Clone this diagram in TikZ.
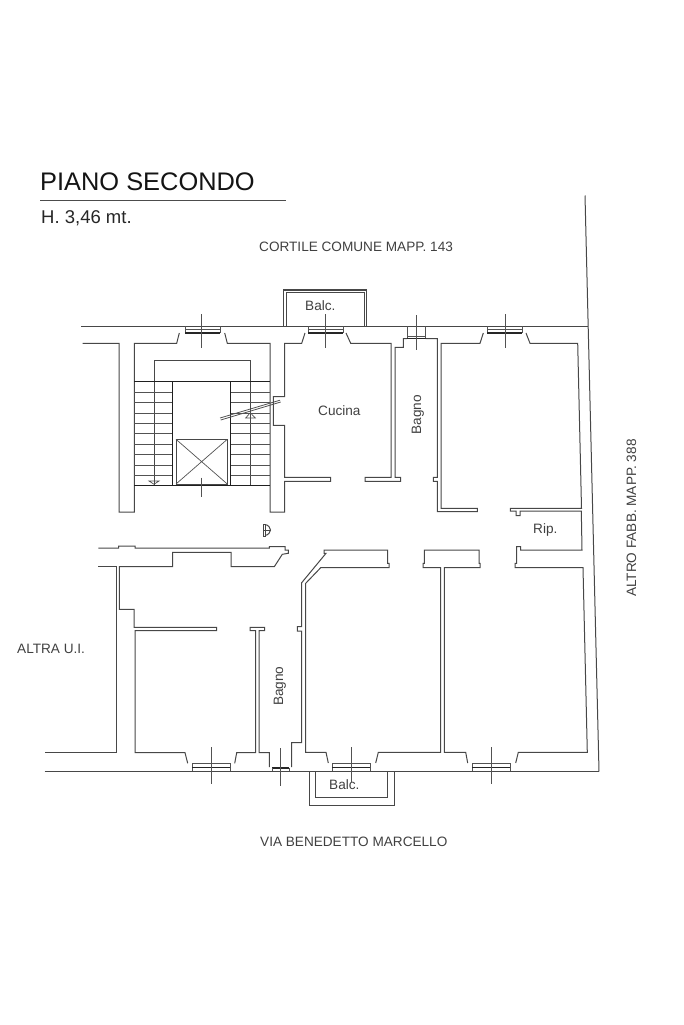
\documentclass[tikz,border=0pt]{standalone}
\usepackage{fontspec}
\setmainfont{Liberation Sans}
\tikzset{
  wall/.style={draw=black!72,line width=1pt,line join=miter},
  dark/.style={draw=black!88,line width=1pt},
  thin/.style={draw=black!68,line width=0.8pt},
  glass/.style={draw=black!85,line width=1.1pt},
  lbl/.style={text=black!75,inner sep=0pt,font=\fontsize{13.6}{14}\selectfont},
  lblv/.style={lbl,rotate=90}
}
\newcommand{\wintop}[3]{% x1 x2 cross x
  \draw[thin] (#1,326) -- (#1,333) (#2,326) -- (#2,333);
  \draw[glass] (#1,333) -- (#2,333);
  \draw[thin] (#1,329) -- (#2,329);
  \draw[thin] (#3,314) -- (#3,348);
}
\newcommand{\winbot}[5]{% x1 x2 cross x, y1, y2
  \draw[thin] (#1,771) -- (#1,763.3) (#2,771) -- (#2,763.3);
  \draw[thin] (#1,763.5) -- (#2,763.5);
  \draw[glass] (#1,767.5) -- (#2,767.5);
  \draw[thin] (#3,#4) -- (#3,#5);
}
\begin{document}
\begin{tikzpicture}[x=1pt,y=-1pt]
\useasboundingbox (0,0) rectangle (683,1025);
% title
\node[anchor=base west,inner sep=0pt,text=black!92,font=\fontsize{25.4}{26}\selectfont] (title) at (40,190) {PIANO SECONDO};
\draw[draw=black!70,line width=1pt] (40,200.7) -- (286,200.7);
\node[anchor=base west,inner sep=0pt,text=black!85,font=\fontsize{18.5}{20}\selectfont] (height) at (41,223.5) {H. 3,46 mt.};
% labels
\node[lbl,anchor=base west] (cortile) at (259,251) {CORTILE COMUNE MAPP. 143};
\node[lblv,anchor=base west] (altro) at (636,597) {ALTRO FABB. MAPP. 388};
\node[lbl,anchor=base west] (altra) at (17,653) {ALTRA U.I.};
\node[lbl,anchor=base west] (via) at (260,846) {VIA BENEDETTO MARCELLO};
\node[lblv,anchor=base west] (bagnoa) at (421,434.5) {Bagno};
\node[lblv,anchor=base west] (bagnob) at (283,706) {Bagno};
\node[lbl,anchor=base west] (cucina) at (318,415) {Cucina};
\node[lbl,anchor=base west] (balca) at (305,310) {Balc.};
\node[lbl,anchor=base west] (balcb) at (329,789) {Balc.};
\node[lbl,anchor=base west] (rip) at (533,533) {Rip.};
% outer lines
\draw[wall] (81,326) -- (588,326);
\draw[wall] (44.5,771.3) -- (599,771.3);
\draw[wall] (585,195.5) -- (599,771.3);
% top balcony
\draw[wall,line width=1.2pt] (283.5,326) -- (283.5,290) -- (366.5,290) -- (366.5,326);
\draw[wall] (286,326) -- (286,292.7) -- (364,292.7) -- (364,326);
% bottom balcony
\draw[wall] (309,771.3) -- (309,805) -- (394,805) -- (394,771.3);
\draw[wall] (315.7,771.3) -- (315.7,797.7) -- (387.3,797.7) -- (387.3,771.3);
% windows top
\wintop{185}{220}{201.7}
\wintop{308.3}{343.3}{325.5}
\wintop{487.3}{522.3}{505}
% bath window top
\draw[thin] (407,326) -- (407,338.7) (425.7,326) -- (425.7,338.7);
\draw[glass] (407,338.7) -- (425.7,338.7);
\draw[thin] (407,336) -- (425.7,336);
\draw[thin] (416,315) -- (416,350);
% left upper wall
\draw[wall] (82.7,343.3) -- (119,343.3) -- (119,512) -- (134.3,512) -- (134.3,343.3) -- (176.7,343.3) -- (179.3,333);
\draw[wall] (224.7,333) -- (227.3,343.3) -- (270,343.3) -- (270,512) -- (284.7,512) -- (284.7,481.3) -- (330.7,481.3) -- (330.7,477.3) -- (284.5,477.3) -- (284.5,425.3) -- (273.3,425.3) -- (273.3,396.7) -- (284.5,396.7) -- (284.5,343.3) -- (301.7,343.3) -- (305,333);
% kitchen right and bath
\draw[wall] (346,333) -- (350.7,343.3) -- (391,343.3) -- (391,477.3) -- (365,477.3) -- (365,481.3) -- (400.7,481.3) -- (400.7,477.3) -- (395,477.3) -- (395,347.3) -- (403.3,347.3) -- (403.3,338.7) -- (407,338.7);
\draw[wall] (425.7,338.7) -- (437.3,338.7) -- (437.3,477.3) -- (433.3,477.3) -- (433.3,481.3) -- (437.3,481.3) -- (437.3,511.7) -- (477.3,511.7) -- (477.3,508.3) -- (441,508.3) -- (441,343.3) -- (480,343.3) -- (483.3,333);
\draw[wall] (526,333) -- (530,343.3) -- (577.7,343.3) -- (581.5,508.3) -- (510.3,508.3) -- (510.3,511) -- (516,511) -- (516,515.5) -- (520,515.5) -- (520,511) -- (581.3,511) -- (582,550) -- (520.7,550) -- (520.7,546.7) -- (516.7,546.7) -- (516.7,563.3) -- (515,563.3) -- (515,567.7) -- (583,567.7) -- (587.3,752.3) -- (518.3,752.3) -- (515.7,763);
% central walls
\draw[wall] (467.7,763) -- (465.7,752.3) -- (444.3,752.3) -- (444.3,567.7) -- (480,567.7) -- (480,563.3) -- (479,563.3) -- (479,550) -- (424.3,550) -- (424.3,563.3) -- (423,563.3) -- (423,567.7) -- (440.7,567.7) -- (440.7,752.3) -- (378.3,752.3) -- (375.7,763);
\draw[wall] (328.3,763) -- (326,752.3) -- (305.7,752.3) -- (305.7,583.3) -- (320.7,567.7) -- (389,567.7) -- (389,563.3) -- (387.7,563.3) -- (387.7,550) -- (324,550) -- (324,553.3) -- (326,553.3) -- (301.7,582.7) -- (301.7,626.7) -- (297.3,626.7) -- (297.3,631) -- (301.7,631) -- (301.7,742.7) -- (291.7,742.7) -- (291.7,767);
% lower left
\draw[wall] (269.3,767) -- (269.3,752.7) -- (259,752.7) -- (259,630.7) -- (264.7,630.7) -- (264.7,627.3) -- (250,627.3) -- (250,630.7) -- (255.7,630.7) -- (255.7,752.7) -- (236.7,752.7) -- (234.7,763.3);
\draw[wall] (187.7,763.3) -- (185,752.7) -- (135,752.7) -- (135,630.7) -- (216.7,630.7) -- (216.7,627.3) -- (134,627.3) -- (134,609.3) -- (119.3,609.3) -- (119.3,566.7) -- (172.7,566.7) -- (172.7,552.3) -- (231,552.3) -- (231,566.7) -- (274.3,566.7) -- (282.3,554.3) -- (288.3,553.3) -- (288.3,550) -- (285,550) -- (285,546.7) -- (269.3,546.7) -- (269.3,548) -- (135,548) -- (135,546) -- (118.7,546) -- (118.7,548) -- (98.3,548);
\draw[wall] (98.3,566.7) -- (116.3,566.7) -- (116.3,752.7) -- (45,752.7);
% windows bottom
\winbot{192}{230}{211.3}{747.3}{784}
\winbot{332.3}{370.3}{351.7}{747.3}{781.7}
\winbot{472.3}{510.3}{491.7}{747.3}{784}
\draw[glass,line width=2pt] (272.3,768) -- (289.3,768);
\draw[thin] (272.3,768) -- (272.3,771) (289.3,768) -- (289.3,771);
\draw[thin] (280.3,748.3) -- (280.3,786);
% stair
\draw[wall] (154,485) -- (154,360.7) -- (250.3,360.7) -- (250.3,485);
\foreach \k in {0,...,10}{
  \pgfmathsetmacro{\yy}{381.7+\k*10.4}
  \draw[thin] (134.3,\yy) -- (172.7,\yy) (230.7,\yy) -- (270,\yy);
}
\draw[dark] (134.3,381.7) -- (270,381.7);
\draw[dark] (134.3,485.7) -- (270,485.7);
\draw[dark] (172.7,381.7) -- (172.7,485.7) (230.7,381.7) -- (230.7,485.7);
% lift
\draw[wall] (176,439.3) rectangle (227.3,484);
\draw[thin,line width=0.7pt] (176,439.3) -- (227.3,484) (176,484) -- (227.3,439.3);
\draw[thin] (201.7,477.7) -- (201.7,496.7);
% door on stair
\draw[thin] (220.7,420) -- (280.7,402) (220,418) -- (280,400.2);
% level marks
\draw[thin,line width=0.7pt] (250.3,412.7) -- (245.7,418) -- (255.3,418) -- cycle;
\draw[thin,line width=0.7pt] (154,484.3) -- (149,481) -- (159,481) -- cycle;
% compass symbol
\draw[wall] (263,524) -- (263,536) -- (265,536) -- (265,524) -- cycle;
\draw[wall] (265,524.5) .. controls (268.5,525) and (270.5,528) .. (270.5,530) .. controls (270.5,532) and (268.5,535) .. (265,535.5);
\draw[wall] (263,530) -- (270.5,530);
\end{tikzpicture}
\end{document}
